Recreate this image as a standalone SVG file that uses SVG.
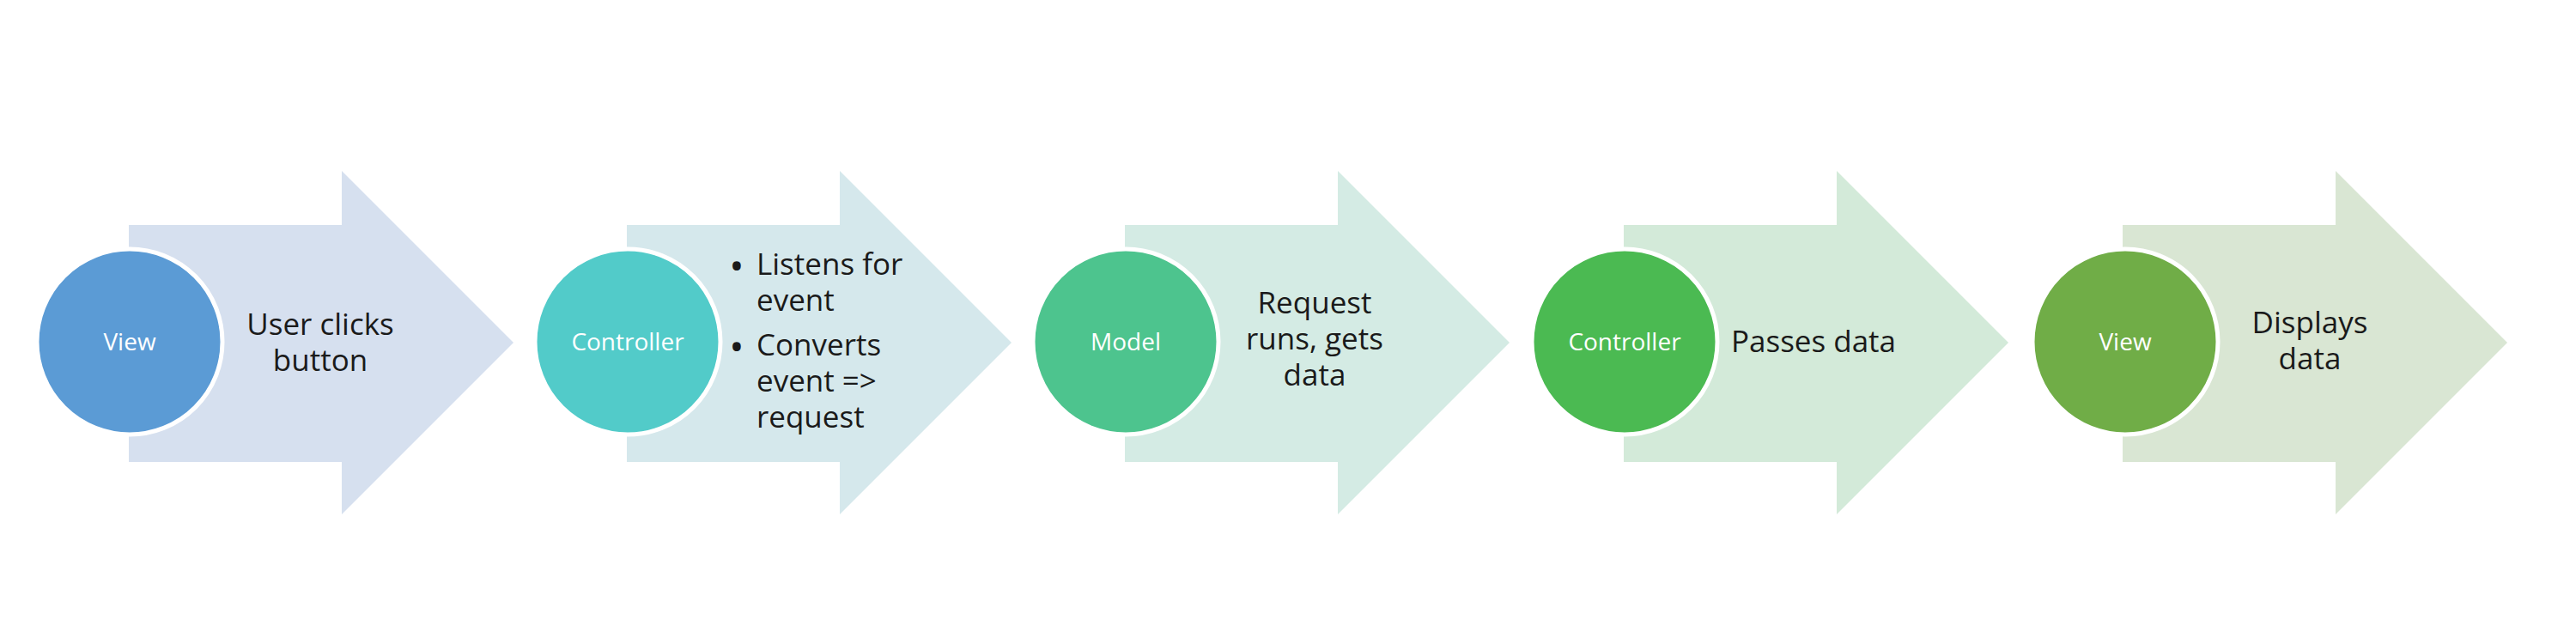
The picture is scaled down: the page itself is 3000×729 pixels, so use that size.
<svg xmlns="http://www.w3.org/2000/svg" width="3000" height="729" viewBox="0 0 3000 729">
<style>
.arrow{stroke:none}
.circ{stroke:#ffffff;stroke-width:5}
.lbl{font-family:"Open Sans","Noto Sans",sans-serif;font-size:28px;fill:#ffffff;text-anchor:middle}
.txt{font-family:"Open Sans","Noto Sans",sans-serif;font-size:35px;fill:#1a1a1a;text-anchor:middle}
.btxt{font-family:"Open Sans","Noto Sans",sans-serif;font-size:35px;fill:#1a1a1a}
.bul{font-family:"Open Sans","Noto Sans",sans-serif;font-size:46px;fill:#1a1a1a;text-anchor:middle}
</style>
<defs>
<polygon id="arrowShape" points="0,262 248,262 248,199 448,399 248,599 248,538 0,538"/>
</defs>
<rect width="3000" height="729" fill="#ffffff"/>
<g id="connectors"></g>
<g id="node1">
<use href="#arrowShape" x="150" class="arrow" fill="#D6E0EF"/>
<circle class="circ" cx="151" cy="398" r="108" fill="#5B9BD5"/>
<text class="lbl" x="151" y="408">View</text>
<text class="txt" x="373" y="390">User clicks</text>
<text class="txt" x="373" y="432">button</text>
</g>
<g id="node2">
<use href="#arrowShape" x="730" class="arrow" fill="#D5E8EC"/>
<circle class="circ" cx="731" cy="398" r="108" fill="#52CBC9"/>
<text class="lbl" x="731" y="408">Controller</text>
<text class="bul" x="858" y="326">•</text>
<text class="btxt" x="881" y="320">Listens for</text>
<text class="btxt" x="881" y="362">event</text>
<text class="bul" x="858" y="420">•</text>
<text class="btxt" x="881" y="414">Converts</text>
<text class="btxt" x="881" y="456">event =&gt;</text>
<text class="btxt" x="881" y="498">request</text>
</g>
<g id="node3">
<use href="#arrowShape" x="1310" class="arrow" fill="#D4EBE4"/>
<circle class="circ" cx="1311" cy="398" r="108" fill="#4DC48E"/>
<text class="lbl" x="1311" y="408">Model</text>
<text class="txt" x="1531" y="365">Request</text>
<text class="txt" x="1531" y="407">runs, gets</text>
<text class="txt" x="1531" y="449">data</text>
</g>
<g id="node4">
<use href="#arrowShape" x="1891" class="arrow" fill="#D3EAD9"/>
<circle class="circ" cx="1892" cy="398" r="108" fill="#4BBA52"/>
<text class="lbl" x="1892" y="408">Controller</text>
<text class="txt" x="2112" y="410">Passes data</text>
</g>
<g id="node5">
<use href="#arrowShape" x="2472" class="arrow" fill="#D9E6D3"/>
<circle class="circ" cx="2475" cy="398" r="108" fill="#70AD47"/>
<text class="lbl" x="2475" y="408">View</text>
<text class="txt" x="2690" y="388">Displays</text>
<text class="txt" x="2690" y="430">data</text>
</g>
</svg>
